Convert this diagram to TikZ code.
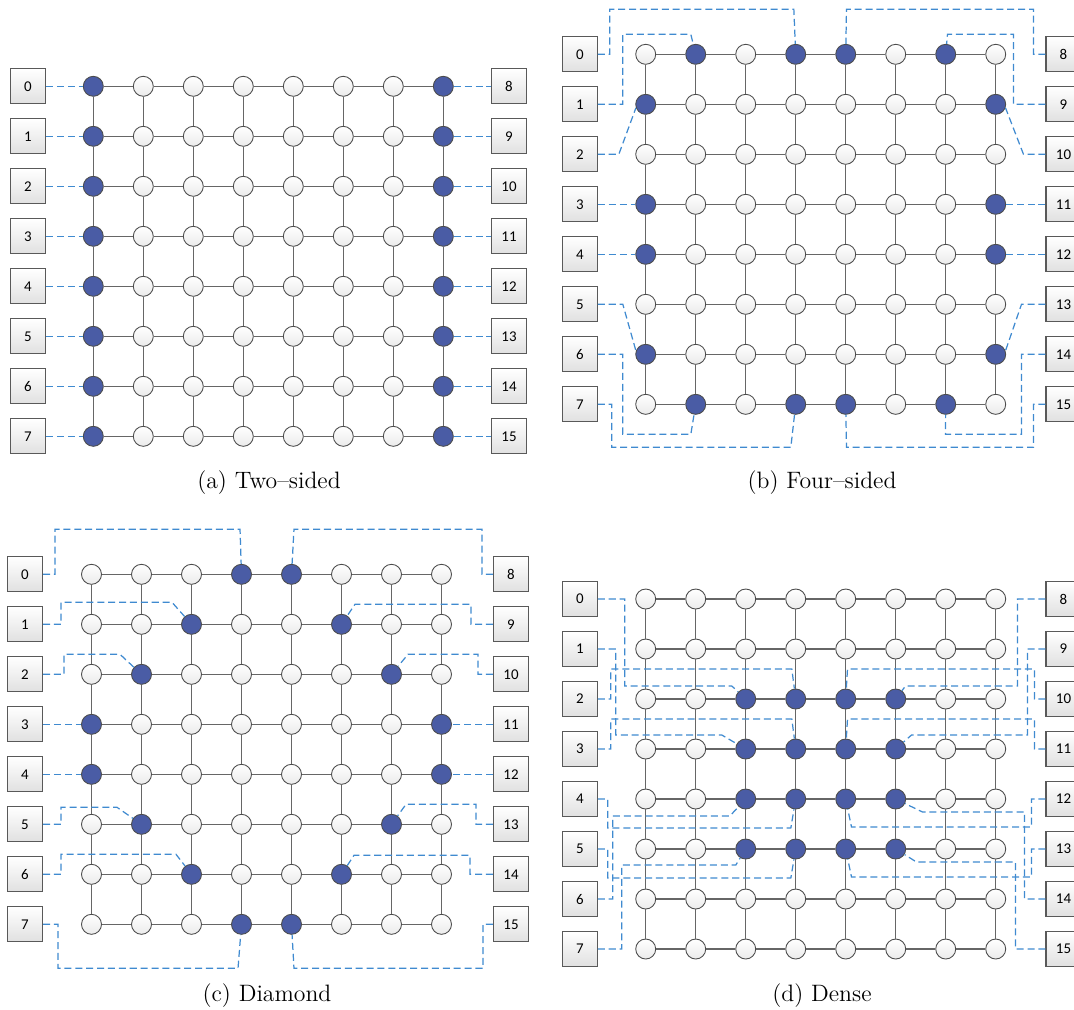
\documentclass[tikz,border=0pt]{standalone}
\usepackage{fontspec}
\newfontfamily\portfont{Carlito}

\definecolor{hubblue}{HTML}{4A5CA5}
\definecolor{wireblue}{HTML}{3F8AD0}

\tikzset{
    router/.style={circle, draw=black!70, line width=0.5pt, minimum size=0.4cm, inner sep=0pt, top color=white, bottom color=black!8},
    hub/.style={circle, draw=black!70, line width=0.5pt, minimum size=0.4cm, inner sep=0pt, fill=hubblue},
    port/.style={rectangle, draw=black!65, line width=0.6pt, minimum width=0.7cm, minimum height=0.7cm, inner sep=0pt, top color=white, bottom color=black!12, font=\portfont\fontsize{8.5}{10}\selectfont},
    link/.style={draw=black!60, line width=0.8pt},
    wire/.style={draw=wireblue, line width=0.7pt, dash pattern=on 4pt off 2.2pt},
    subcap/.style={anchor=base, font=\fontsize{13.5}{16}\selectfont}
}

% pick hub or router for a cell
\makeatletter
\newcommand{\setcell}[2]{%
    \edef\@tmpa{\noexpand\in@{,#1,}{,#2,}}\@tmpa
    \ifin@\tikzset{cell/.style={hub}}\else\tikzset{cell/.style={router}}\fi}
\makeatother

% 8x8 mesh: prefix, x0, y0, left port x, right port x, hub cells
\newcommand{\meshgrid}[6]{%
    \foreach \row in {0,...,7}{
        \foreach \col in {0,...,7}{
            \setcell{\row-\col}{#6}
            \node[cell] (#1-\row-\col) at ({#2+50*\col},{#3+50*\row}) {};
        }
    }
    \foreach \row in {0,...,7}{
        \foreach \col [count=\nxt from 1] in {0,...,6}{
            \draw[link] (#1-\row-\col) -- (#1-\row-\nxt);
            \draw[link] (#1-\col-\row) -- (#1-\nxt-\row);
        }
    }
    \foreach \row [count=\rt from 8] in {0,...,7}{
        \node[port] (#1-p\row) at (#4,{#3+50*\row}) {\row};
        \node[port] (#1-p\rt) at (#5,{#3+50*\row}) {\rt};
    }
}

\begin{document}
\begin{tikzpicture}[x=0.02cm, y=-0.02cm]
\clip (0,0) rectangle (1074,1009);

% Two-sided
\meshgrid{a}{93.3}{86.3}{28}{509}{0-0,1-0,2-0,3-0,4-0,5-0,6-0,7-0,0-7,1-7,2-7,3-7,4-7,5-7,6-7,7-7}
\foreach \row [count=\rt from 8] in {0,...,7}{
    \draw[wire] (a-p\row) -- (a-\row-0);
    \draw[wire] (a-\row-7) -- (a-p\rt);
}
\node[subcap] (capa) at (269,488) {(a) Two--sided};

% Four-sided
\meshgrid{b}{645.7}{54.3}{579.8}{1063.5}{0-1,0-3,0-4,0-6,7-1,7-3,7-4,7-6,1-0,3-0,4-0,6-0,1-7,3-7,4-7,6-7}
\draw[wire] (b-p0.east) -- ++(12,0) -- ++(0,-45) -- ++(184,0) -- (b-0-3);
\draw[wire] (b-p1.east) -- ++(25,0) -- ++(0,-70) -- ++(68,0) -- (b-0-1);
\draw[wire] (b-p2.east) -- ++(21,0) -- (b-1-0.200);
\draw[wire] (b-p3) -- (b-3-0);
\draw[wire] (b-p4) -- (b-4-0);
\draw[wire] (b-p5.east) -- ++(25,0) -- (b-6-0.160);
\draw[wire] (b-p6.east) -- ++(25,0) -- ++(0,80) -- ++(68,0) -- (b-7-1);
\draw[wire] (b-p7.east) -- ++(14,0) -- ++(0,43) -- ++(179,0) -- (b-7-3);
\draw[wire] (b-p8.west) -- ++(-12,0) -- ++(0,-45) -- ++(-187,0) -- (b-0-4);
\draw[wire] (b-p9.west) -- ++(-32,0) -- ++(0,-70) -- ++(-66,0) -- (b-0-6);
\draw[wire] (b-p10.west) -- ++(-22,0) -- (b-1-7.340);
\draw[wire] (b-p11) -- (b-3-7);
\draw[wire] (b-p12) -- (b-4-7);
\draw[wire] (b-p13.west) -- ++(-24,0) -- (b-6-7.20);
\draw[wire] (b-p14.west) -- ++(-24,0) -- ++(0,80) -- ++(-76,0) -- (b-7-6);
\draw[wire] (b-p15.west) -- ++(-12,0) -- ++(0,43) -- ++(-187,0) -- (b-7-4);
\node[subcap] (capb) at (822,488) {(b) Four--sided};

% Diamond
\meshgrid{c}{91.5}{574.3}{25}{511}{0-3,0-4,1-2,1-5,2-1,2-6,3-0,3-7,4-0,4-7,5-1,5-6,6-2,6-5,7-3,7-4}
\draw[wire] (c-p0.east) -- ++(12,0) -- ++(0,-45) -- ++(185,0) -- (c-0-3);
\draw[wire] (c-p1.east) -- ++(18,0) -- ++(0,-22) -- ++(111,0) -- (c-1-2);
\draw[wire] (c-p2.east) -- ++(21,0) -- ++(0,-20) -- ++(56,0) -- (c-2-1);
\draw[wire] (c-p3) -- (c-3-0);
\draw[wire] (c-p4) -- (c-4-0);
\draw[wire] (c-p5.east) -- ++(18,0) -- ++(0,-17) -- ++(56,0) -- (c-5-1);
\draw[wire] (c-p6.east) -- ++(18,0) -- ++(0,-20) -- ++(115,0) -- (c-6-2);
\draw[wire] (c-p7.east) -- ++(15,0) -- ++(0,44) -- ++(180,0) -- (c-7-3);
\draw[wire] (c-p8.west) -- ++(-11,0) -- ++(0,-45) -- ++(-188,0) -- (c-0-4);
\draw[wire] (c-p9.west) -- ++(-22,0) -- ++(0,-20) -- ++(-116,0) -- (c-1-5);
\draw[wire] (c-p10.west) -- ++(-15,0) -- ++(0,-20) -- ++(-70,0) -- (c-2-6);
\draw[wire] (c-p11) -- (c-3-7);
\draw[wire] (c-p12) -- (c-4-7);
\draw[wire] (c-p13.west) -- ++(-17,0) -- ++(0,-20) -- ++(-70,0) -- (c-5-6);
\draw[wire] (c-p14.west) -- ++(-23,0) -- ++(0,-19) -- ++(-116,0) -- (c-6-5);
\draw[wire] (c-p15.west) -- ++(-10,0) -- ++(0,44) -- ++(-189,0) -- (c-7-4);
\node[subcap] (capc) at (267,1001) {(c) Diamond};

% Dense
\meshgrid{d}{645.7}{599}{579.8}{1063.5}{2-2,2-3,2-4,2-5,3-2,3-3,3-4,3-5,4-2,4-3,4-4,4-5,5-2,5-3,5-4,5-5}
\draw[wire] (d-p0.east) -- ++(27,0) -- ++(0,87) -- ++(107,0) -- (d-2-2);
\draw[wire] (d-p1.east) -- ++(18,0) -- ++(0,86) -- ++(106,0) -- (d-3-2);
\draw[wire] (d-p2.east) -- ++(13,0) -- ++(0,-30) -- ++(181,0) -- (d-2-3);
\draw[wire] (d-p3.east) -- ++(13,0) -- ++(0,-30) -- ++(181,0) -- (d-3-3);
\draw[wire] (d-p4.east) -- ++(10,0) -- ++(0,29) -- ++(183,0) -- (d-4-3);
\draw[wire] (d-p5.east) -- ++(10,0) -- ++(0,29) -- ++(183,0) -- (d-5-3);
\draw[wire] (d-p6.east) -- ++(15,0) -- ++(0,-83) -- ++(117,0) -- (d-4-2);
\draw[wire] (d-p7.east) -- ++(24,0) -- ++(0,-84) -- ++(114,0) -- (d-5-2);
\draw[wire] (d-p8.west) -- ++(-28,0) -- ++(0,87) -- ++(-112,0) -- (d-2-5);
\draw[wire] (d-p9.west) -- ++(-18,0) -- ++(0,86) -- ++(-116,0) -- (d-3-5);
\draw[wire] (d-p10.west) -- ++(-11,0) -- ++(0,-30) -- ++(-187,0) -- (d-2-4);
\draw[wire] (d-p11.west) -- ++(-11,0) -- ++(0,-30) -- ++(-187,0) -- (d-3-4);
\draw[wire] (d-p12.west) -- ++(-14,0) -- ++(0,28) -- ++(-180,0) -- (d-4-4);
\draw[wire] (d-p13.west) -- ++(-14,0) -- ++(0,28) -- ++(-180,0) -- (d-5-4);
\draw[wire] (d-p14.west) -- ++(-21,0) -- ++(0,-87) -- ++(-102,0) -- (d-4-5);
\draw[wire] (d-p15.west) -- ++(-30,0) -- ++(0,-87) -- ++(-99,0) -- (d-5-5);
\node[subcap] (capd) at (822,1001) {(d) Dense};

\end{tikzpicture}
\end{document}
